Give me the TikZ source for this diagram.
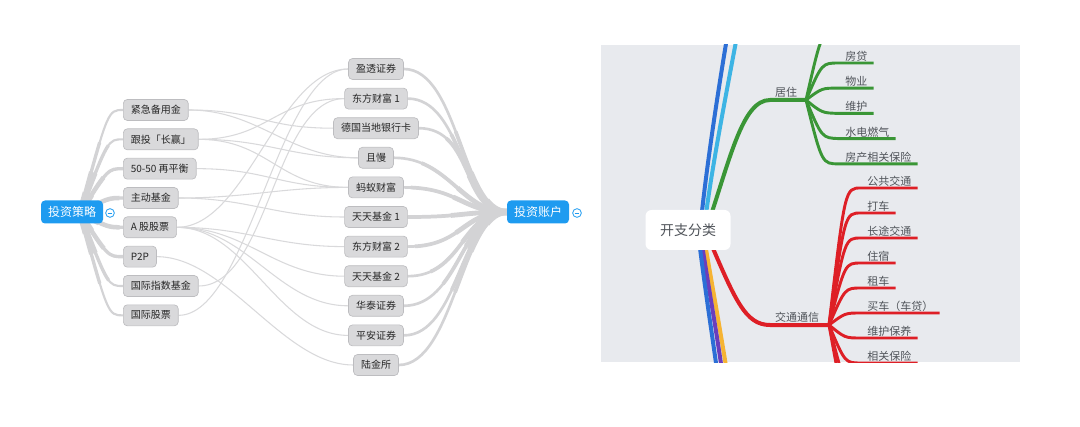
\documentclass[tikz,border=0pt]{standalone}
\usepackage{fontspec}
\setmainfont{Noto Sans CJK SC}
\usetikzlibrary{positioning,calc,backgrounds}
\definecolor{lblue}{HTML}{1E9BF0}
\definecolor{boxfill}{HTML}{D9D9DB}
\definecolor{boxline}{HTML}{BDBDC0}
\definecolor{brgray}{HTML}{D3D3D5}
\definecolor{lkgray}{HTML}{D9D9DB}
\definecolor{panel}{HTML}{E8EAEE}
\definecolor{txtgray}{HTML}{50545A}
\definecolor{gline}{HTML}{3A9636}
\definecolor{rline}{HTML}{DE1F26}
\definecolor{bline}{HTML}{2C6FD6}
\definecolor{cline}{HTML}{3DB4E4}
\definecolor{pline}{HTML}{6A3EBD}
\definecolor{oline}{HTML}{F6B433}

\begin{document}
\begin{tikzpicture}[x=0.75pt,y=-0.75pt,node distance=22pt,every node/.style={inner sep=1pt}]
\tikzstyle{root}=[fill=lblue,text=white,rounded corners=3pt,minimum width=46.5pt,minimum height=17.25pt,font=\fontsize{9}{10}\selectfont]
\tikzstyle{box}=[fill=boxfill,draw=boxline,line width=0.5pt,rounded corners=3pt,minimum height=15.75pt,inner xsep=5.6pt,font=\fontsize{7.5}{9}\selectfont,text=black!85]
\tikzstyle{fold}=[circle,draw=lblue,line width=0.6pt,minimum size=6.5pt,inner sep=0pt,path picture={\draw[lblue,line width=0.6pt] ([xshift=1.4pt]path picture bounding box.west) -- ([xshift=-1.4pt]path picture bounding box.east);}]
\tikzstyle{lbranch}=[draw=brgray,line width=1.6pt,postaction={draw=brgray,line width=2.5pt,dash pattern=on 55pt off 900pt},postaction={draw=brgray,line width=3.4pt,dash pattern=on 32pt off 900pt},postaction={draw=brgray,line width=4.4pt,dash pattern=on 16pt off 900pt}]
\tikzstyle{rbranch}=[draw=brgray,line width=2pt,postaction={draw=brgray,line width=2.8pt,dash pattern=on 75pt off 900pt},postaction={draw=brgray,line width=3.6pt,dash pattern=on 42pt off 900pt},postaction={draw=brgray,line width=4.6pt,dash pattern=on 18pt off 900pt}]
\tikzstyle{link}=[draw=lkgray,line width=0.8pt]
\tikzstyle{croot}=[fill=white,rounded corners=4.5pt,minimum width=63.75pt,minimum height=30pt,font=\fontsize{10.5}{12}\selectfont,text=txtgray]
\tikzstyle{cat}=[font=\fontsize{8.25}{10}\selectfont,text=txtgray,inner sep=1pt]
\tikzstyle{item}=[font=\fontsize{8.25}{10}\selectfont,text=txtgray,inner xsep=4.5pt,inner ysep=1pt]
\tikzstyle{mainline}=[line width=3pt,line cap=round]
\tikzstyle{gsub}=[draw=gline,line width=2.2pt]
\tikzstyle{rsub}=[draw=rline,line width=2.2pt]
\useasboundingbox (0,0) rectangle (1080,427);

% investment strategy
\node[root](lroot) at (72,212){投资策略};
\node[fold](lfold) at (110,213){};
\coordinate (lhub) at (80,213);
\node[box,anchor=west](l1) at (123,110){紧急备用金};
\node[box,below=of l1.west,anchor=west](l2){跟投「长赢」};
\node[box,below=of l2.west,anchor=west](l3){50-50 再平衡};
\node[box,below=of l3.west,anchor=west](l4){主动基金};
\node[box,below=of l4.west,anchor=west](l5){A 股股票};
\node[box,below=of l5.west,anchor=west](l6){P2P};
\node[box,below=of l6.west,anchor=west](l7){国际指数基金};
\node[box,below=of l7.west,anchor=west](l8){国际股票};

% accounts
\node[box](m1) at (376,69){盈透证券};
\node[box,below=22.2pt of m1.center,anchor=center](m2){东方财富 1};
\node[box,below=22.2pt of m2.center,anchor=center](m3){德国当地银行卡};
\node[box,below=22.2pt of m3.center,anchor=center](m4){且慢};
\node[box,below=22.2pt of m4.center,anchor=center](m5){蚂蚁财富};
\node[box,below=22.2pt of m5.center,anchor=center](m6){天天基金 1};
\node[box,below=22.2pt of m6.center,anchor=center](m7){东方财富 2};
\node[box,below=22.2pt of m7.center,anchor=center](m8){天天基金 2};
\node[box,below=22.2pt of m8.center,anchor=center](m9){华泰证券};
\node[box,below=22.2pt of m9.center,anchor=center](m10){平安证券};
\node[box,below=22.2pt of m10.center,anchor=center](m11){陆金所};
\node[root](rroot) at (538,212){投资账户};
\node[fold](rfold) at (577,213){};

% expense map
\node[croot](croot) at (688,230){开支分类};
\node[cat,anchor=south](glab) at (786,99){居住};
\node[cat,anchor=south](rlab) at (797,324){交通通信};
\coordinate (ghub) at (806,100);
\coordinate (rhub) at (829,325);
\coordinate (gtop) at (839,30);
\node[item,anchor=south west](g1) at (839,63){房贷};
\node[item,below=18.9pt of g1.south west,anchor=south west](g2){物业};
\node[item,below=18.9pt of g2.south west,anchor=south west](g3){维护};
\node[item,below=18.9pt of g3.south west,anchor=south west](g4){水电燃气};
\node[item,below=18.9pt of g4.south west,anchor=south west](g5){房产相关保险};
\node[item,anchor=south west](r1) at (861,188){公共交通};
\node[item,below=18.75pt of r1.south west,anchor=south west](r2){打车};
\node[item,below=18.75pt of r2.south west,anchor=south west](r3){长途交通};
\node[item,below=18.75pt of r3.south west,anchor=south west](r4){住宿};
\node[item,below=18.75pt of r4.south west,anchor=south west](r5){租车};
\node[item,below=18.75pt of r5.south west,anchor=south west](r6){买车（车贷）};
\node[item,below=18.75pt of r6.south west,anchor=south west](r7){维护保养};
\node[item,below=18.75pt of r7.south west,anchor=south west](r8){相关保险};
\coordinate (rb1) at (861,388);
\coordinate (rb2) at (861,413);

\begin{pgfonlayer}{background}
\fill[panel] (601,45) rectangle (1020,362);
\begin{scope}
\clip (601,45) rectangle (1020,362);
\draw[mainline,bline] ($(croot.center)+(12,0)$) .. controls (706,170) and (718,90) .. (730,20);
\draw[mainline,cline] ($(croot.center)+(16,0)$) .. controls (711,170) and (727,90) .. (740,20);
\draw[mainline,oline] ($(croot.center)+(15,2)$) .. controls (713,290) and (722,340) .. (729,385);
\draw[mainline,pline] ($(croot.center)+(12,2)$) .. controls (709,290) and (718,340) .. (724,385);
\draw[mainline,bline] ($(croot.center)+(10,2)$) .. controls (705,290) and (713,340) .. (719,385);
\draw[mainline,gline] ($(croot.center)+(18,0)$) .. controls (730,160) and (742,100) .. (770,100) -- (ghub);
\draw[mainline,rline] ($(croot.center)+(18,2)$) .. controls (735,300) and (745,325) .. (770,325) -- (rhub);

\draw[gsub] (ghub) .. controls (822,30) .. (gtop) -- +(40,0);
\draw[gsub] (ghub) .. controls (822,63) .. (g1.south west) -- (g1.south east);
\draw[gsub] (ghub) .. controls (822,88) .. (g2.south west) -- (g2.south east);
\draw[gsub] (ghub) .. controls (822,113) .. (g3.south west) -- (g3.south east);
\draw[gsub] (ghub) .. controls (822,138) .. (g4.south west) -- (g4.south east);
\draw[gsub] (ghub) .. controls (822,164) .. (g5.south west) -- (g5.south east);

\draw[rsub] (rhub) .. controls (845,188) .. (r1.south west) -- (r1.south east);
\draw[rsub] (rhub) .. controls (845,213) .. (r2.south west) -- (r2.south east);
\draw[rsub] (rhub) .. controls (845,238) .. (r3.south west) -- (r3.south east);
\draw[rsub] (rhub) .. controls (845,263) .. (r4.south west) -- (r4.south east);
\draw[rsub] (rhub) .. controls (845,288) .. (r5.south west) -- (r5.south east);
\draw[rsub] (rhub) .. controls (845,313) .. (r6.south west) -- (r6.south east);
\draw[rsub] (rhub) .. controls (845,338) .. (r7.south west) -- (r7.south east);
\draw[rsub] (rhub) .. controls (845,363) .. (r8.south west) -- (r8.south east);
\draw[rsub] (rhub) .. controls (845,388) .. (rb1) -- +(50,0);
\draw[rsub] (rhub) .. controls (845,413) .. (rb2) -- +(50,0);
\end{scope}

% cross links
\path[link](l1.east) .. controls +(70,0) and +(-70,0) .. (m3.west);
\path[link](l1.east) .. controls +(70,0) and +(-70,0) .. (m4.west);
\path[link](l2.east) .. controls +(70,0) and +(-70,0) .. (m2.west);
\path[link](l2.east) .. controls +(70,0) and +(-70,0) .. (m4.west);
\path[link](l2.east) .. controls +(70,0) and +(-70,0) .. (m5.west);
\path[link](l3.east) .. controls +(70,0) and +(-70,0) .. (m5.west);
\path[link](l4.east) .. controls +(70,0) and +(-70,0) .. (m5.west);
\path[link](l4.east) .. controls +(70,0) and +(-70,0) .. (m6.west);
\path[link](l5.east) .. controls +(70,0) and +(-70,0) .. (m1.west);
\path[link](l5.east) .. controls +(70,0) and +(-70,0) .. (m7.west);
\path[link](l5.east) .. controls +(70,0) and +(-70,0) .. (m8.west);
\path[link](l5.east) .. controls +(70,0) and +(-70,0) .. (m9.west);
\path[link](l5.east) .. controls +(70,0) and +(-70,0) .. (m10.west);
\path[link](l6.east) .. controls +(70,0) and +(-70,0) .. (m11.west);
\path[link](l7.east) .. controls +(70,0) and +(-70,0) .. (m2.west);
\path[link](l8.east) .. controls +(70,0) and +(-70,0) .. (m1.west);

% strategy branches
\path[lbranch](lhub) .. controls ($(l1.west)+(-15,0)$) .. (l1.west);
\path[lbranch](lhub) .. controls ($(l2.west)+(-15,0)$) .. (l2.west);
\path[lbranch](lhub) .. controls ($(l3.west)+(-15,0)$) .. (l3.west);
\path[lbranch](lhub) .. controls ($(l4.west)+(-15,0)$) .. (l4.west);
\path[lbranch](lhub) .. controls ($(l5.west)+(-15,0)$) .. (l5.west);
\path[lbranch](lhub) .. controls ($(l6.west)+(-15,0)$) .. (l6.west);
\path[lbranch](lhub) .. controls ($(l7.west)+(-15,0)$) .. (l7.west);
\path[lbranch](lhub) .. controls ($(l8.west)+(-15,0)$) .. (l8.west);

% account branches
\path[rbranch](rroot.west) .. controls +(-45,0) and +(55,0) .. (m1.east);
\path[rbranch](rroot.west) .. controls +(-45,0) and +(55,0) .. (m2.east);
\path[rbranch](rroot.west) .. controls +(-45,0) and +(55,0) .. (m3.east);
\path[rbranch](rroot.west) .. controls +(-45,0) and +(55,0) .. (m4.east);
\path[rbranch](rroot.west) .. controls +(-45,0) and +(55,0) .. (m5.east);
\path[rbranch](rroot.west) .. controls +(-45,0) and +(55,0) .. (m6.east);
\path[rbranch](rroot.west) .. controls +(-45,0) and +(55,0) .. (m7.east);
\path[rbranch](rroot.west) .. controls +(-45,0) and +(55,0) .. (m8.east);
\path[rbranch](rroot.west) .. controls +(-45,0) and +(55,0) .. (m9.east);
\path[rbranch](rroot.west) .. controls +(-45,0) and +(55,0) .. (m10.east);
\path[rbranch](rroot.west) .. controls +(-45,0) and +(55,0) .. (m11.east);
\end{pgfonlayer}
\end{tikzpicture}
\end{document}
